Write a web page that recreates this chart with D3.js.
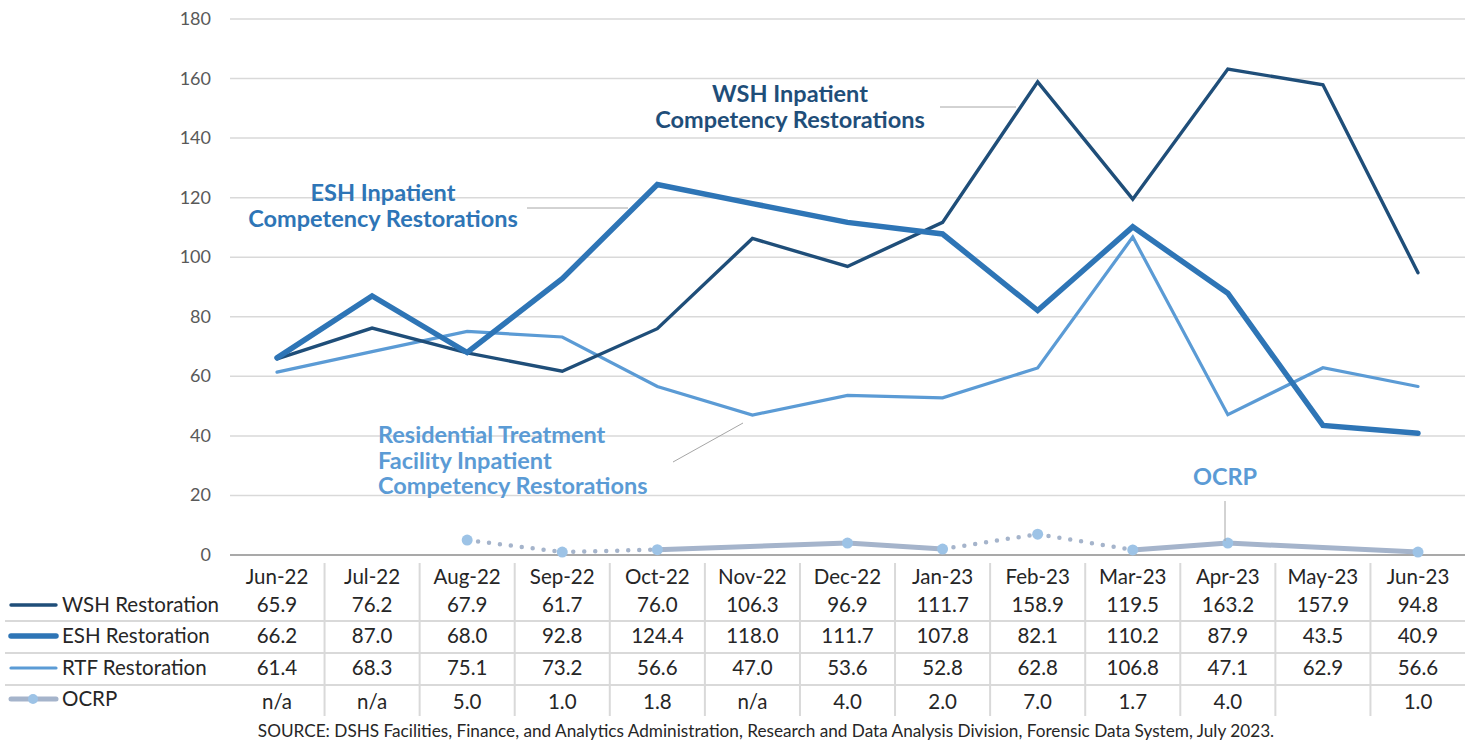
<!DOCTYPE html>
<html lang="en">
<head>
<meta charset="UTF-8">
<title>Competency Restorations</title>
<script src="https://d3js.org/d3.v7.min.js"></script>
<style>
    body { margin: 0; background: #fff; }
    text { font-family: Lato, "Open Sans", sans-serif; }
    .grid line { stroke: #d9d9d9; stroke-width: 1.5; }
    .ytick { fill: #595959; font-size: 18px; }
    .cell { fill: #262626; font-size: 20.5px; }
</style>
</head>
<body>
<div id="chart"></div>
<script>
    // Data
    var months = ["Jun-22", "Jul-22", "Aug-22", "Sep-22", "Oct-22", "Nov-22", "Dec-22",
        "Jan-23", "Feb-23", "Mar-23", "Apr-23", "May-23", "Jun-23"];
    var wsh = [65.9, 76.2, 67.9, 61.7, 76.0, 106.3, 96.9, 111.7, 158.9, 119.5, 163.2, 157.9, 94.8];
    var esh = [66.2, 87.0, 68.0, 92.8, 124.4, 118.0, 111.7, 107.8, 82.1, 110.2, 87.9, 43.5, 40.9];
    var rtf = [61.4, 68.3, 75.1, 73.2, 56.6, 47.0, 53.6, 52.8, 62.8, 106.8, 47.1, 62.9, 56.6];
    var ocrp = [null, null, 5.0, 1.0, 1.8, null, 4.0, 2.0, 7.0, 1.7, 4.0, null, 1.0];
    var ocrpText = ["n/a", "n/a", "5.0", "1.0", "1.8", "n/a", "4.0", "2.0", "7.0", "1.7", "4.0", "", "1.0"];
    // OCRP segments drawn dotted (month where the segment starts)
    var ocrpDotted = ["Aug-22", "Sep-22", "Jan-23", "Feb-23"];
    var yTicks = [0, 20, 40, 60, 80, 100, 120, 140, 160, 180];

    var W = 1472, H = 745;
    var plotLeft = 230, plotRight = 1465, plotTop = 19, plotBottom = 555;

    var svg = d3.select("#chart").append("svg")
        .attr("width", W).attr("height", H);

    var x = d3.scalePoint().domain(months).range([277, 1418]);
    var step = x.step();
    var y = d3.scaleLinear().domain([0, 180]).range([plotBottom, plotTop]);

    // gridlines
    svg.append("g").attr("class", "grid")
        .selectAll("line").data(yTicks.slice(1)).enter().append("line")
        .attr("x1", plotLeft).attr("x2", plotRight)
        .attr("y1", function (d) { return y(d); })
        .attr("y2", function (d) { return y(d); });

    svg.append("line")
        .attr("x1", plotLeft).attr("x2", plotRight)
        .attr("y1", y(0)).attr("y2", y(0))
        .attr("stroke", "#8c8c8c").attr("stroke-width", 1.5);

    svg.append("g").selectAll("text").data(yTicks).enter().append("text")
        .attr("class", "ytick")
        .attr("x", 211).attr("y", function (d) { return y(d) + 6; })
        .attr("text-anchor", "end")
        .text(function (d) { return d; });

    // series lines
    var series = [
        { name: "RTF Restoration", values: rtf, color: "#5b9bd5", width: 3.2 },
        { name: "WSH Restoration", values: wsh, color: "#1f4e79", width: 3.4 },
        { name: "ESH Restoration", values: esh, color: "#2e75b6", width: 5.5 }
    ];

    var line = d3.line()
        .x(function (d, i) { return x(months[i]); })
        .y(function (d) { return y(d); });

    series.forEach(function (s) {
        svg.append("path")
            .attr("d", line(s.values))
            .attr("fill", "none")
            .attr("stroke", s.color)
            .attr("stroke-width", s.width)
            .attr("stroke-linecap", "round")
            .attr("stroke-linejoin", "miter");
    });

    // OCRP: connect available points
    var ocrpPts = [];
    ocrp.forEach(function (v, i) { if (v !== null) ocrpPts.push({ m: months[i], v: v }); });
    for (var k = 0; k < ocrpPts.length - 1; k++) {
        var a = ocrpPts[k], b = ocrpPts[k + 1];
        var dotted = ocrpDotted.indexOf(a.m) >= 0;
        svg.append("line")
            .attr("x1", x(a.m)).attr("y1", y(a.v))
            .attr("x2", x(b.m)).attr("y2", y(b.v))
            .attr("stroke", "#a5b4cb")
            .attr("stroke-width", dotted ? 4.5 : 5)
            .attr("stroke-linecap", "round")
            .attr("stroke-dasharray", dotted ? "0 11" : null);
    }
    svg.append("g").selectAll("circle").data(ocrpPts).enter().append("circle")
        .attr("cx", function (d) { return x(d.m); })
        .attr("cy", function (d) { return y(d.v); })
        .attr("r", 5.5)
        .attr("fill", "#9dc3e6");

    // annotations
    function label(lines, lx, ly, anchor, color) {
        var t = svg.append("text")
            .attr("text-anchor", anchor)
            .attr("fill", color)
            .attr("font-weight", "bold")
            .attr("font-size", 23.5);
        lines.forEach(function (s, i) {
            t.append("tspan").attr("x", lx).attr("y", ly + i * 25.5).text(s);
        });
    }
    function leader(x1, y1, x2, y2) {
        svg.append("line")
            .attr("x1", x1).attr("y1", y1).attr("x2", x2).attr("y2", y2)
            .attr("stroke", "#a6a6a6").attr("stroke-width", 1);
    }

    label(["WSH Inpatient", "Competency Restorations"], 790, 102, "middle", "#1f4e79");
    leader(940, 107, 1016, 107);
    label(["ESH Inpatient", "Competency Restorations"], 383, 201, "middle", "#2e75b6");
    leader(527, 208, 628, 208);
    label(["Residential Treatment", "Facility Inpatient", "Competency Restorations"], 378, 443, "start", "#5b9bd5");
    leader(673, 462, 743, 423);
    label(["OCRP"], 1225, 485, "middle", "#5b9bd5");
    leader(1225, 501, 1225, 541);

    // data table
    var rowY = [577, 605, 636, 668, 699];
    var sepY = [621, 653, 685];

    svg.append("g").selectAll("line").data(sepY).enter().append("line")
        .attr("x1", 5).attr("x2", plotRight)
        .attr("y1", function (d) { return d; }).attr("y2", function (d) { return d; })
        .attr("stroke", "#d9d9d9").attr("stroke-width", 2);

    svg.append("g").selectAll("line").data(months.slice(1)).enter().append("line")
        .attr("x1", function (d) { return x(d) - step / 2; })
        .attr("x2", function (d) { return x(d) - step / 2; })
        .attr("y1", 563).attr("y2", 716)
        .attr("stroke", "#d9d9d9").attr("stroke-width", 2);

    svg.append("g").selectAll("text").data(months).enter().append("text")
        .attr("class", "cell")
        .attr("x", function (d) { return x(d); })
        .attr("y", rowY[0] + 7)
        .attr("text-anchor", "middle")
        .text(function (d) { return d; });

    var fmt = function (v) { return v.toFixed(1); };
    var rows = [
        { name: "WSH Restoration", text: wsh.map(fmt), color: "#1f4e79", width: 3.4 },
        { name: "ESH Restoration", text: esh.map(fmt), color: "#2e75b6", width: 5.5 },
        { name: "RTF Restoration", text: rtf.map(fmt), color: "#5b9bd5", width: 3.2 },
        { name: "OCRP", text: ocrpText, color: "#a5b4cb", width: 5, marker: true }
    ];

    rows.forEach(function (r, ri) {
        var ry = rowY[ri + 1];
        svg.append("line")
            .attr("x1", 11).attr("x2", 56).attr("y1", ry).attr("y2", ry)
            .attr("stroke", r.color).attr("stroke-width", r.width)
            .attr("stroke-linecap", "round");
        if (r.marker) {
            svg.append("circle").attr("cx", 33).attr("cy", ry).attr("r", 5).attr("fill", "#9dc3e6");
        }
        svg.append("text").attr("class", "cell")
            .attr("x", 62).attr("y", ry + 7).text(r.name);
        svg.append("g").selectAll("text").data(r.text).enter().append("text")
            .attr("class", "cell")
            .attr("x", function (d, i) { return x(months[i]); })
            .attr("y", ry + 7 + (ri === 3 ? 3 : 0))
            .attr("text-anchor", "middle")
            .text(function (d) { return d; });
    });

    svg.append("text")
        .attr("x", 766).attr("y", 737)
        .attr("text-anchor", "middle")
        .attr("fill", "#262626")
        .attr("font-size", 17.2)
        .text("SOURCE: DSHS Facilities, Finance, and Analytics Administration, Research and Data Analysis Division, Forensic Data System, July 2023.");
</script>
</body>
</html>
